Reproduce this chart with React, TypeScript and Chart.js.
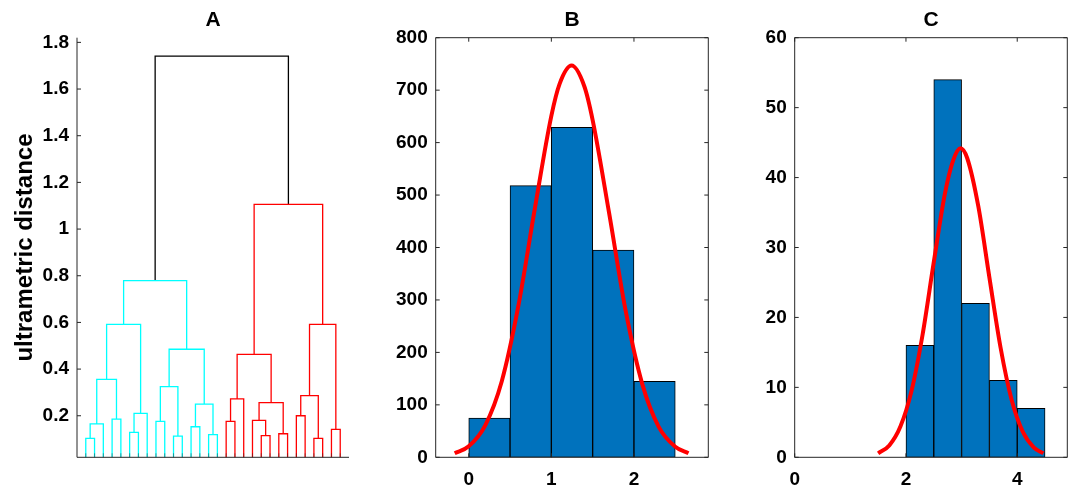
import React, { useEffect, useRef } from 'react';
import { Chart, registerables } from 'chart.js';

Chart.register(...registerables);

const FONT = "'Liberation Sans', Arial, Helvetica, sans-serif";
const AXIS_COLOR = '#262626';
const TICK_LEN = 4;
const COLOR_THRESHOLD = 0.7;
const CLUSTER_PALETTE = ['#00FFFF', '#FF0000'];
const ABOVE_COLOR = '#000000';

// ---------- texts ----------
const panelTitles = ['A', 'B', 'C'];
const yLabelA = 'ultrametric distance';

// ---------- Panel A: dendrogram (linkage, leaves 1..30 in display order, internal nodes 31..) ----------
const leafCount = 30;
const linkLeft = [1, 27, 11, 21, 15, 23, 6, 29, 13, 31, 9, 17, 20, 4, 25, 37, 39, 43, 42, 45, 41, 40, 49, 51, 52, 50, 55, 53, 57];
const linkRight = [2, 28, 12, 22, 16, 24, 7, 30, 14, 3, 10, 18, 34, 5, 26, 8, 35, 36, 19, 32, 33, 44, 48, 47, 46, 38, 54, 56, 58];
const linkHeight = [0.103, 0.103, 0.113, 0.115, 0.119, 0.123, 0.129, 0.142, 0.153, 0.165, 0.176, 0.176, 0.18, 0.186, 0.2, 0.21, 0.25, 0.256, 0.272, 0.286, 0.325, 0.356, 0.463, 0.485, 0.592, 0.592, 0.779, 1.106, 1.741];

// ---------- Panel B: histogram + normal fit ----------
const binEdgesB = [0, 0.5, 1, 1.5, 2, 2.5];
const countsB = [75, 518, 629, 395, 145];
const fitXB = [-0.17, 0, 0.2, 0.4, 0.6, 0.8, 1.0, 1.1, 1.245, 1.4, 1.5, 1.7, 1.9, 2.1, 2.3, 2.5, 2.66];
const fitYB = [7.6, 21, 61, 145, 288, 474, 651, 712, 747, 707, 643, 465, 279, 140, 58, 20, 7.6];

// ---------- Panel C: histogram + normal fit ----------
const binEdgesC = [2, 2.5, 3, 3.5, 4, 4.5];
const countsC = [16, 54, 22, 11, 7];
const fitXC = [1.5, 1.7, 1.9, 2.1, 2.3, 2.5, 2.7, 2.85, 2.98, 3.1, 3.3, 3.5, 3.7, 3.9, 4.1, 4.3, 4.47];
const fitYC = [0.57, 1.7, 4.4, 9.5, 17.6, 27.9, 37.7, 42.5, 44.2, 42.8, 35.9, 25.7, 15.7, 8.2, 3.65, 1.39, 0.57];

Chart.defaults.font.family = FONT;

function framePlugin(cfg: { box: boolean; xTicks?: number[]; xTickColor?: string }) {
  return {
    id: 'frame',
    afterDatasetsDraw(chart: any) {
      const { ctx, chartArea: a, scales } = chart;
      const xs = scales.x;
      const ys = scales.y;
      ctx.save();
      ctx.lineWidth = 1;
      ctx.strokeStyle = AXIS_COLOR;
      ctx.beginPath();
      ctx.moveTo(a.left, a.top);
      ctx.lineTo(a.left, a.bottom);
      ctx.lineTo(a.right, a.bottom);
      if (cfg.box) {
        ctx.lineTo(a.right, a.top);
        ctx.closePath();
      }
      ctx.stroke();
      ctx.beginPath();
      for (const t of ys.ticks) {
        const py = ys.getPixelForValue(t.value);
        ctx.moveTo(a.left, py);
        ctx.lineTo(a.left + TICK_LEN, py);
        if (cfg.box) {
          ctx.moveTo(a.right, py);
          ctx.lineTo(a.right - TICK_LEN, py);
        }
      }
      ctx.stroke();
      const xv = cfg.xTicks ?? xs.ticks.map((t: any) => t.value);
      ctx.strokeStyle = cfg.xTickColor ?? AXIS_COLOR;
      ctx.beginPath();
      for (const v of xv) {
        const px = xs.getPixelForValue(v);
        ctx.moveTo(px, a.bottom);
        ctx.lineTo(px, a.bottom - TICK_LEN);
        if (cfg.box) {
          ctx.moveTo(px, a.top);
          ctx.lineTo(px, a.top + TICK_LEN);
        }
      }
      ctx.stroke();
      ctx.restore();
    },
  };
}

const tickFont = { family: FONT, size: 19, weight: 'bold' as const };
const titleOpts = (text: string) => ({
  display: true,
  text,
  color: '#000',
  fullSize: false,
  font: { family: FONT, size: 21, weight: 'bold' as const },
  padding: { top: 7.2, bottom: 5.3 },
});

function dendrogramDatasets() {
  const n = leafCount;
  const xPos: number[] = [];
  const yPos: number[] = [];
  const parent: number[] = [];
  for (let i = 1; i <= n; i++) {
    xPos[i] = i;
    yPos[i] = 0;
  }
  linkHeight.forEach((h, k) => {
    const id = n + 1 + k;
    xPos[id] = (xPos[linkLeft[k]] + xPos[linkRight[k]]) / 2;
    yPos[id] = h;
    parent[linkLeft[k]] = id;
    parent[linkRight[k]] = id;
  });
  const thr = COLOR_THRESHOLD * Math.max(...linkHeight);
  const roots: number[] = [];
  linkHeight.forEach((h, k) => {
    const id = n + 1 + k;
    const p = parent[id];
    if (h < thr && (p === undefined || yPos[p] >= thr)) roots.push(id);
  });
  roots.sort((a, b) => xPos[a] - xPos[b]);
  const color: string[] = [];
  for (let k = linkHeight.length - 1; k >= 0; k--) {
    const id = n + 1 + k;
    const ri = roots.indexOf(id);
    if (ri >= 0) color[id] = CLUSTER_PALETTE[ri % CLUSTER_PALETTE.length];
    else if (parent[id] !== undefined && yPos[parent[id]] < thr) color[id] = color[parent[id]];
    else color[id] = ABOVE_COLOR;
  }
  return linkHeight.map((h, k) => {
    const id = n + 1 + k;
    const l = linkLeft[k];
    const r = linkRight[k];
    return {
      type: 'line' as const,
      showLine: true,
      data: [
        { x: xPos[l], y: yPos[l] },
        { x: xPos[l], y: h },
        { x: xPos[r], y: h },
        { x: xPos[r], y: yPos[r] },
      ],
      borderColor: color[id],
      borderWidth: 1.3,
      pointRadius: 0,
      tension: 0,
      fill: false,
    };
  });
}

function configA(): any {
  const leaves = Array.from({ length: leafCount }, (_, i) => i + 1);
  return {
    type: 'scatter',
    data: { datasets: dendrogramDatasets() },
    plugins: [framePlugin({ box: false, xTicks: leaves, xTickColor: 'rgba(38,38,38,0.45)' })],
    options: {
      responsive: false,
      animation: false,
      events: [],
      layout: { padding: { left: 0, right: 11, top: 0, bottom: 0 } },
      plugins: {
        legend: { display: false },
        tooltip: { enabled: false },
        title: titleOpts(panelTitles[0]),
      },
      scales: {
        x: {
          type: 'linear',
          min: 0,
          max: leafCount + 1,
          grid: { display: false, drawTicks: false },
          border: { display: false },
          ticks: { display: false },
          afterFit: (s: any) => {
            s.height = 35.7;
          },
        },
        y: {
          type: 'linear',
          min: 0.022,
          max: 1.82,
          grid: { display: false, drawTicks: false },
          border: { display: false },
          title: {
            display: true,
            text: yLabelA,
            color: '#000',
            font: { family: FONT, size: 24, weight: 'bold' },
            padding: { top: 10.9, bottom: 0 },
          },
          ticks: {
            stepSize: 0.2,
            includeBounds: false,
            autoSkip: false,
            padding: 8,
            color: '#000',
            font: tickFont,
            callback: (v: number) => String(Number(Number(v).toFixed(1))),
          },
          afterFit: (s: any) => {
            s.width = 77;
          },
        },
      },
    },
  };
}

function histConfig(
  title: string,
  edges: number[],
  counts: number[],
  fx: number[],
  fy: number[],
  xr: { min: number; max: number; step: number },
  yr: { max: number; step: number },
  yAxisWidth: number,
  rightPad: number
): any {
  return {
    type: 'bar',
    data: {
      datasets: [
        {
          type: 'line',
          data: fx.map((x, i) => ({ x, y: fy[i] })),
          borderColor: '#FF0000',
          borderWidth: 4,
          pointRadius: 0,
          cubicInterpolationMode: 'monotone',
          fill: false,
          order: 0,
        },
        {
          type: 'bar',
          data: counts.map((c, i) => ({ x: (edges[i] + edges[i + 1]) / 2, y: c })),
          backgroundColor: '#0072BD',
          borderColor: '#000000',
          borderWidth: 1,
          borderSkipped: false,
          barPercentage: 1,
          categoryPercentage: 1,
          order: 1,
        },
      ],
    },
    plugins: [framePlugin({ box: true })],
    options: {
      responsive: false,
      animation: false,
      events: [],
      layout: { padding: { left: 0, right: rightPad, top: 0, bottom: 0 } },
      plugins: {
        legend: { display: false },
        tooltip: { enabled: false },
        title: titleOpts(title),
      },
      scales: {
        x: {
          type: 'linear',
          min: xr.min,
          max: xr.max,
          offset: false,
          grid: { display: false, drawTicks: false, offset: false },
          border: { display: false },
          ticks: {
            stepSize: xr.step,
            includeBounds: false,
            autoSkip: false,
            padding: 11.2,
            color: '#000',
            font: tickFont,
            maxRotation: 0,
          },
          afterFit: (s: any) => {
            s.height = 35.7;
          },
        },
        y: {
          type: 'linear',
          min: 0,
          max: yr.max,
          grid: { display: false, drawTicks: false },
          border: { display: false },
          ticks: {
            stepSize: yr.step,
            autoSkip: false,
            padding: 8,
            color: '#000',
            font: tickFont,
          },
          afterFit: (s: any) => {
            s.width = yAxisWidth;
          },
        },
      },
    },
  };
}

function ChartPanel({ left, width, makeConfig }: { left: number; width: number; makeConfig: () => any }) {
  const ref = useRef<HTMLCanvasElement>(null);
  useEffect(() => {
    if (!ref.current) return;
    const chart = new Chart(ref.current, makeConfig());
    return () => chart.destroy();
  }, []);
  return (
    <canvas
      ref={ref}
      width={width}
      height={493}
      style={{ position: 'absolute', left, top: 0, width, height: 493 }}
    />
  );
}

export default function App() {
  return (
    <div style={{ position: 'absolute', left: 0, top: 0, width: 1073, height: 493, background: '#fff' }}>
      <ChartPanel left={0} width={360} makeConfig={configA} />
      <ChartPanel
        left={370}
        width={350}
        makeConfig={() =>
          histConfig(panelTitles[1], binEdgesB, countsB, fitXB, fitYB, { min: -0.4, max: 2.9, step: 1 }, { max: 800, step: 100 }, 65.7, 11.7)
        }
      />
      <ChartPanel
        left={730}
        width={343}
        makeConfig={() =>
          histConfig(panelTitles[2], binEdgesC, countsC, fitXC, fitYC, { min: 0, max: 4.9, step: 2 }, { max: 60, step: 10 }, 64.7, 5.7)
        }
      />
    </div>
  );
}
